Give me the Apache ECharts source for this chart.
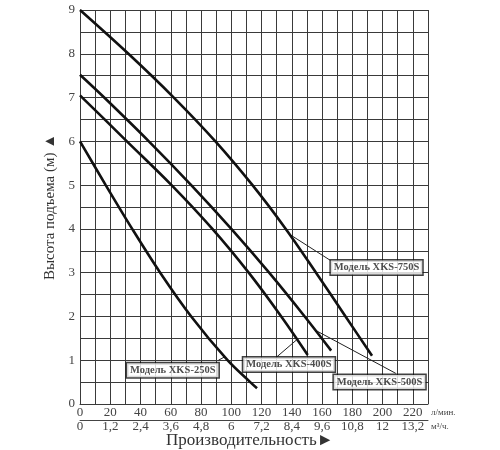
<!DOCTYPE html>
<html>
<head>
<meta charset="utf-8">
<script src="https://cdn.jsdelivr.net/npm/echarts@6/dist/echarts.min.js"></script>
<style>
  html, body { margin: 0; padding: 0; background: #fff; }
  #chart { width: 500px; height: 450px; }
</style>
</head>
<body>
<div id="chart"></div>
<script>
// flow axis, l/min and m3/h
const flowTicks = [0, 20, 40, 60, 80, 100, 120, 140, 160, 180, 200, 220];
const m3hTicks = ['0', '1,2', '2,4', '3,6', '4,8', '6', '7,2', '8,4', '9,6', '10,8', '12', '13,2'];
const headTicks = [0, 1, 2, 3, 4, 5, 6, 7, 8, 9];

// pump curves: flow (l/min) / head (m)
const q750 = [0, 32, 62, 89.5, 114, 136, 156, 175.5, 193];
const h750 = [9, 8, 7, 6, 5, 4, 3, 2, 1.1];
const q500 = [0, 16, 45.5, 73.5, 100, 125, 148.5, 166];
const h500 = [7.52, 7, 6, 5, 4, 3, 2, 1.22];
const q400 = [0, 1.5, 31, 60.5, 87.5, 111.5, 133, 150.5];
const h400 = [7.05, 7, 6, 5, 4, 3, 2, 1.12];
const q250 = [0, 17, 34.5, 53, 73.5, 97.5, 112.5, 117];
const h250 = [6, 5, 4, 3, 2, 1, 0.5, 0.36];

const models = ['Модель XKS-750S', 'Модель XKS-500S', 'Модель XKS-400S', 'Модель XKS-250S'];
// label box centres and leader lines (data units)
const boxAt = [[196, 3.12], [198, 0.5], [138.1, 0.9], [61.3, 0.77]];
const leaders = [
  [[138.8, 3.87], [165.5, 3.28]],
  [[156.4, 1.67], [208.7, 0.7]],
  [[143, 1.46], [130.2, 1.08]],
  [[95.8, 1.08], [91.5, 1.0]]
];

const serif = "'Liberation Serif', 'DejaVu Serif', serif";
const gridColor = '#3a3a3a';

function pairs(qs, hs) {
  return qs.map((q, i) => [q, hs[i]]);
}

const curves = [[q750, h750], [q500, h500], [q400, h400], [q250, h250]];

const series = [];
curves.forEach((c, i) => {
  series.push({
    name: models[i],
    type: 'line',
    data: pairs(c[0], c[1]),
    smooth: 0.35,
    symbol: 'none',
    lineStyle: { color: '#111', width: 2.6 },
    z: 3
  });
});
leaders.forEach(l => {
  series.push({
    type: 'line',
    data: l,
    symbol: 'none',
    lineStyle: { color: '#222', width: 1 },
    z: 2
  });
});
series.push({
  type: 'scatter',
  data: boxAt.map((p, i) => ({ value: p, name: models[i] })),
  symbolSize: 0,
  z: 5,
  label: {
    show: true,
    position: 'inside',
    formatter: p => p.name,
    fontFamily: serif,
    fontWeight: 'bold',
    fontSize: 10.5,
    color: '#222',
    backgroundColor: '#fff',
    borderColor: '#111',
    borderWidth: 1.5,
    padding: [2, 3, 1, 3]
  }
});

const chart = echarts.init(document.getElementById('chart'));
chart.setOption({
  animation: false,
  backgroundColor: '#fff',
  grid: { left: 80, right: 72, top: 10, bottom: 46, outerBoundsMode: 'none' },
  xAxis: [
    {
      type: 'value',
      min: 0,
      max: 230,
      interval: 10,
      axisLine: { show: true, lineStyle: { color: gridColor, width: 1 } },
      axisTick: { show: false },
      splitLine: { show: true, lineStyle: { color: gridColor, width: 1 } },
      axisLabel: {
        margin: 2,
        fontFamily: serif,
        fontSize: 13,
        color: '#444',
        formatter: v => (flowTicks.indexOf(v) >= 0 ? String(v) : '')
      },
      name: 'л/мин.',
      nameLocation: 'end',
      nameGap: 3,
      nameTextStyle: { fontFamily: serif, fontSize: 9, color: '#444', verticalAlign: 'top', padding: [4, 0, 0, 0] }
    },
    {
      type: 'value',
      position: 'bottom',
      offset: 16,
      min: 0,
      max: 230,
      interval: 10,
      axisLine: { show: true, lineStyle: { color: '#444', width: 1 } },
      axisTick: { show: false },
      splitLine: { show: false },
      axisLabel: {
        margin: 0,
        fontFamily: serif,
        fontSize: 13,
        color: '#444',
        formatter: v => {
          const i = flowTicks.indexOf(v);
          return i >= 0 ? m3hTicks[i] : '';
        }
      },
      name: 'м³/ч.',
      nameLocation: 'end',
      nameGap: 3,
      nameTextStyle: { fontFamily: serif, fontSize: 9, color: '#444', verticalAlign: 'top', padding: [2, 0, 0, 0] }
    }
  ],
  yAxis: {
    type: 'value',
    min: 0,
    max: 9,
    interval: 0.5,
    axisLine: { show: true, lineStyle: { color: gridColor, width: 1 } },
    axisTick: { show: false },
    splitLine: { show: true, lineStyle: { color: gridColor, width: 1 } },
    axisLabel: {
      margin: 5,
      fontFamily: serif,
      fontSize: 13,
      color: '#444',
      formatter: v => (headTicks.indexOf(v) >= 0 ? String(v) : '')
    },
    name: 'Высота подъема (м) ▲',
    nameLocation: 'middle',
    nameRotate: 90,
    nameGap: 21,
    nameTextStyle: { fontFamily: serif, fontSize: 15, color: '#333' }
  },
  graphic: [
    {
      type: 'text',
      left: 166,
      top: 432,
      style: { text: 'Производительность►', font: "17px 'Liberation Serif', serif", fill: '#333' }
    }
  ],
  series: series
});
</script>
</body>
</html>
